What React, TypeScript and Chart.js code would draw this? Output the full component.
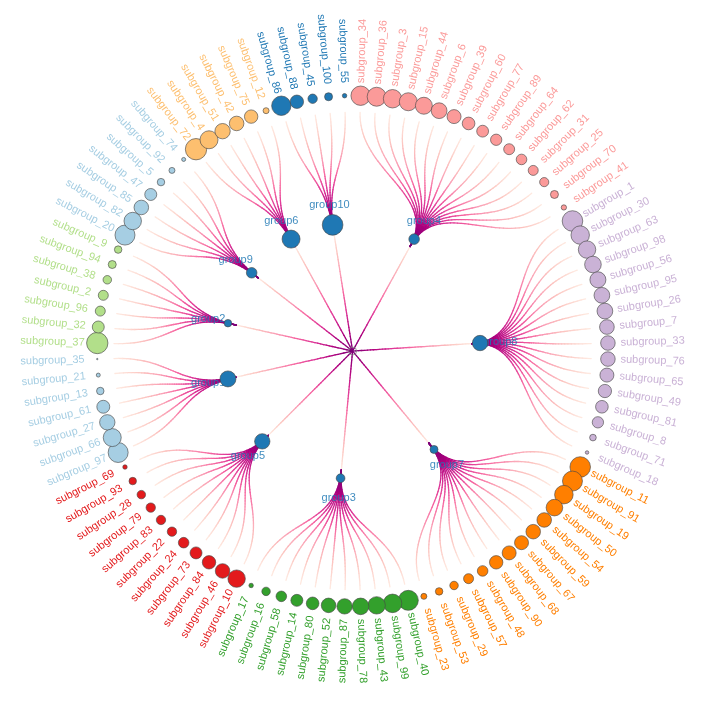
import React, { useEffect, useRef } from "react";
import { Chart, registerables } from "chart.js";

Chart.register(...registerables);

// ---------- data ----------
const groupNames = ["group4", "group8", "group7", "group3", "group5", "group1", "group2", "group9", "group6", "group10"];
const groupColors = ["#FB9A99", "#CAB2D6", "#FF7F00", "#33A02C", "#E31A1C", "#A6CEE3", "#B2DF8A", "#A6CEE3", "#FDBF6F", "#1F78B4"];
const groupNodeValues = [28, 59, 16, 19, 59, 64, 14, 28, 81, 107];

const group4Subgroups = [34, 36, 3, 15, 44, 6, 39, 60, 77, 89, 64, 62, 31, 25, 70, 41];
const group4Values = [94, 90, 85, 81, 72, 62, 49, 40, 35, 32, 30, 28, 25, 21, 16, 7];

const group8Subgroups = [1, 30, 63, 98, 56, 95, 26, 7, 33, 76, 65, 49, 81, 8, 71, 18];
const group8Values = [106, 85, 76, 69, 64, 62, 62, 54, 53, 53, 49, 44, 40, 32, 11, 3];

const group7Subgroups = [11, 91, 19, 50, 54, 59, 67, 68, 90, 48, 57, 29, 53, 23];
const group7Values = [106, 100, 86, 69, 53, 53, 49, 49, 45, 28, 25, 18, 14, 9];

const group3Subgroups = [40, 99, 43, 78, 87, 52, 80, 14, 58, 16, 17];
const group3Values = [100, 86, 76, 69, 59, 53, 40, 36, 28, 18, 5];

const group5Subgroups = [10, 46, 84, 73, 24, 22, 83, 79, 28, 93, 69];
const group5Values = [76, 53, 45, 36, 28, 22, 22, 22, 18, 14, 5];

const group1Subgroups = [97, 66, 27, 61, 13, 21, 35];
const group1Values = [100, 81, 59, 42, 14, 4, 0.5];

const group2Subgroups = [37, 32, 96, 2, 38, 94, 9];
const group2Values = [114, 36, 25, 25, 18, 16, 14];

const group9Subgroups = [20, 82, 85, 47, 5, 92, 74];
const group9Values = [100, 76, 53, 36, 14, 9, 4];

const group6Subgroups = [72, 4, 51, 42, 75, 12];
const group6Values = [114, 81, 59, 53, 45, 9];

const group10Subgroups = [86, 88, 45, 100, 55];
const group10Values = [94, 45, 22, 16, 5];

const subgroupLists = [group4Subgroups, group8Subgroups, group7Subgroups, group3Subgroups, group5Subgroups, group1Subgroups, group2Subgroups, group9Subgroups, group6Subgroups, group10Subgroups];
const valueLists = [group4Values, group8Values, group7Values, group3Values, group5Values, group1Values, group2Values, group9Values, group6Values, group10Values];

// edge colour ramp (RdPu, reversed)
const edgeRamp = ["#7A0177", "#AE017E", "#DD3497", "#F768A1", "#FA9FB5", "#FCC5C0", "#FEEBE2"];

// ---------- geometry / style ----------
const SIZE = 705;
const UNIT = 246.7;
const CX = 352.6;
const CY = 351;
const POINT_SCALE = 1.07;
const GROUP_R = 0.5;
const LEAF_LABEL_R = 1.123;
const GROUP_LABEL_R = 0.62;
const NODE_BLUE = "#1F78B4";
const FONT = "11px 'Liberation Sans', Arial, Helvetica, sans-serif";

type Leaf = { id: number; value: number; theta: number };
type GroupLayout = { name: string; color: string; value: number; theta: number; leaves: Leaf[] };

function buildLayout(): GroupLayout[] {
  const total = subgroupLists.reduce((s, l) => s + l.length, 0);
  let pos = 0;
  return groupNames.map((name, gi) => {
    const leaves = subgroupLists[gi].map((id, k) => {
      const theta = ((pos + 0.5) / total) * Math.PI * 2;
      pos++;
      return { id, value: valueLists[gi][k], theta };
    });
    const theta = leaves.reduce((s, l) => s + l.theta, 0) / leaves.length;
    return { name, color: groupColors[gi], value: groupNodeValues[gi], theta, leaves };
  });
}

const polar = (r: number, t: number): [number, number] => [r * Math.sin(t), r * Math.cos(t)];

function hexToRgb(h: string) {
  const n = parseInt(h.slice(1), 16);
  return [(n >> 16) & 255, (n >> 8) & 255, n & 255];
}
const rampRgb = edgeRamp.map(hexToRgb);
function rampColor(t: number) {
  const f = Math.max(0, Math.min(1, t)) * (rampRgb.length - 1);
  const i = Math.min(rampRgb.length - 2, Math.floor(f));
  const u = f - i;
  const a = rampRgb[i], b = rampRgb[i + 1];
  return `rgb(${Math.round(a[0] + (b[0] - a[0]) * u)},${Math.round(a[1] + (b[1] - a[1]) * u)},${Math.round(a[2] + (b[2] - a[2]) * u)})`;
}

export default function App() {
  const canvasRef = useRef<HTMLCanvasElement | null>(null);

  useEffect(() => {
    const canvas = canvasRef.current;
    if (!canvas) return;
    const layout = buildLayout();

    const toPx = (chart: any, x: number, y: number): [number, number] => [
      chart.scales.x.getPixelForValue(x),
      chart.scales.y.getPixelForValue(y),
    ];

    const dendroPlugin = {
      id: "dendro",
      beforeDatasetsDraw(chart: any) {
        const ctx = chart.ctx as CanvasRenderingContext2D;
        ctx.save();
        ctx.lineWidth = 1.3;
        ctx.lineCap = "round";
        const strokePath = (pts: [number, number][]) => {
          const n = pts.length - 1;
          for (let i = 0; i < n; i++) {
            ctx.strokeStyle = rampColor((i + 0.5) / n);
            ctx.beginPath();
            ctx.moveTo(pts[i][0], pts[i][1]);
            ctx.lineTo(pts[i + 1][0], pts[i + 1][1]);
            ctx.stroke();
          }
        };
        const STEPS = 40;
        // root -> groups
        layout.forEach((g) => {
          const [gx, gy] = polar(GROUP_R, g.theta);
          const pts: [number, number][] = [];
          for (let s = 0; s <= STEPS; s++) {
            const t = s / STEPS;
            pts.push(toPx(chart, gx * t, gy * t));
          }
          strokePath(pts);
        });
        // groups -> leaves (circular diagonal)
        const rMid = (GROUP_R + 1) / 2;
        layout.forEach((g) => {
          const p0 = polar(GROUP_R, g.theta);
          const p1 = polar(rMid, g.theta);
          g.leaves.forEach((l) => {
            const p2 = polar(rMid, l.theta);
            const p3 = polar(1, l.theta);
            const pts: [number, number][] = [];
            for (let s = 0; s <= STEPS; s++) {
              const t = s / STEPS;
              const a = (1 - t) ** 3, b = 3 * (1 - t) ** 2 * t, c = 3 * (1 - t) * t * t, d = t ** 3;
              const x = a * p0[0] + b * p1[0] + c * p2[0] + d * p3[0];
              const y = a * p0[1] + b * p1[1] + c * p2[1] + d * p3[1];
              pts.push(toPx(chart, x, y));
            }
            strokePath(pts);
          });
        });
        // group labels
        ctx.font = FONT;
        ctx.fillStyle = "rgba(31,120,180,0.85)";
        ctx.textAlign = "center";
        ctx.textBaseline = "middle";
        layout.forEach((g) => {
          const [x, y] = polar(GROUP_LABEL_R, g.theta);
          const [px, py] = toPx(chart, x, y);
          ctx.fillText(g.name, px, py);
        });
        ctx.restore();
      },
      afterDatasetsDraw(chart: any) {
        const ctx = chart.ctx as CanvasRenderingContext2D;
        ctx.save();
        ctx.font = FONT;
        ctx.textBaseline = "middle";
        layout.forEach((g) => {
          ctx.fillStyle = g.color;
          g.leaves.forEach((l) => {
            const [x, y] = polar(LEAF_LABEL_R, l.theta);
            const [px, py] = toPx(chart, x, y);
            ctx.save();
            ctx.translate(px, py);
            const phi = l.theta - Math.PI / 2;
            if (l.theta < Math.PI) {
              ctx.rotate(phi);
              ctx.textAlign = "left";
            } else {
              ctx.rotate(phi + Math.PI);
              ctx.textAlign = "right";
            }
            ctx.fillText("subgroup_" + l.id, 0, 0);
            ctx.restore();
          });
        });
        ctx.restore();
      },
    };

    const leafDatasets = layout.map((g) => ({
      label: g.name,
      data: g.leaves.map((l) => {
        const [x, y] = polar(POINT_SCALE, l.theta);
        return { x, y, r: Math.sqrt(l.value) };
      }),
      backgroundColor: g.color,
      borderColor: "rgba(70,70,70,0.9)",
      borderWidth: 0.7,
      clip: false as any,
    }));

    const groupDataset = {
      label: "groups",
      data: layout.map((g) => {
        const [x, y] = polar(GROUP_R * POINT_SCALE, g.theta);
        return { x, y, r: Math.sqrt(g.value) };
      }),
      backgroundColor: NODE_BLUE,
      borderColor: "rgba(70,70,70,0.9)",
      borderWidth: 0.7,
      clip: false as any,
    };

    const rootDataset = {
      label: "origin",
      data: [{ x: 0, y: 0, r: 4 }],
      backgroundColor: "rgba(0,0,0,0)",
      borderColor: "rgba(120,120,120,0.9)",
      borderWidth: 0.8,
      clip: false as any,
    };

    const chart = new Chart(canvas, {
      type: "bubble",
      data: { datasets: [...leafDatasets, groupDataset, rootDataset] as any },
      options: {
        animation: false,
        responsive: false,
        events: [],
        layout: { padding: 0 },
        scales: {
          x: { type: "linear", min: -CX / UNIT, max: (SIZE - CX) / UNIT, display: false },
          y: { type: "linear", min: -(SIZE - CY) / UNIT, max: CY / UNIT, display: false },
        },
        plugins: { legend: { display: false }, tooltip: { enabled: false } },
      },
      plugins: [dendroPlugin],
    });
    return () => chart.destroy();
  }, []);

  return (
    <div style={{ position: "absolute", left: 0, top: 0, width: SIZE, height: SIZE, background: "#fff" }}>
      <canvas ref={canvasRef} width={SIZE} height={SIZE} style={{ width: SIZE, height: SIZE, display: "block" }} />
    </div>
  );
}
